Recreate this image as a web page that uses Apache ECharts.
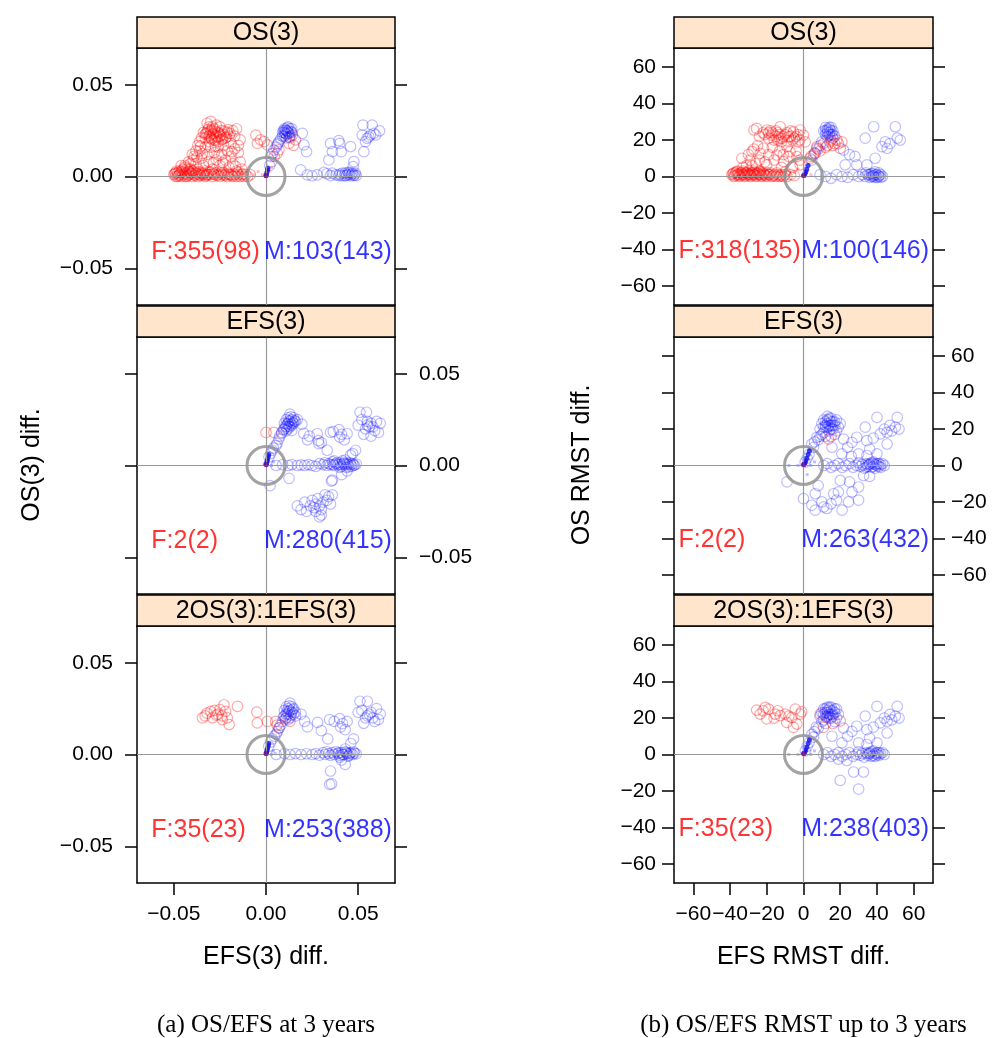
<!DOCTYPE html>
<html>
<head>
<meta charset="UTF-8">
<title>OS/EFS differences</title>
<script src="https://cdn.jsdelivr.net/npm/echarts@6/dist/echarts.min.js"></script>
<style>html,body{margin:0;padding:0;background:#fff;}</style>
</head>
<body>
<div id="main" style="width:995px;height:1038px;"></div>
<script type="text/javascript">
// ---- data ----
// (a) 3-year differences: x = EFS(3) diff., y = OS(3) diff.
var yr3Ticks = [-0.05, 0, 0.05];
var rmstTicks = [-60, -40, -20, 0, 20, 40, 60];
var panelTitles = ['OS(3)', 'EFS(3)', '2OS(3):1EFS(3)'];
var yr3Counts = [['F:355(98)', 'M:103(143)'], ['F:2(2)', 'M:280(415)'], ['F:35(23)', 'M:253(388)']];
var rmstCounts = [['F:318(135)', 'M:100(146)'], ['F:2(2)', 'M:263(432)'], ['F:35(23)', 'M:238(403)']];

var yr3OsF = [
  [-0.050,0.001],[-0.049,0.000],[-0.048,0.002],[-0.047,0.001],[-0.046,0.000],[-0.046,0.003],[-0.045,0.001],[-0.044,0.002],
  [-0.044,0.000],[-0.043,0.004],[-0.042,0.001],[-0.041,0.002],[-0.040,0.000],[-0.040,0.003],[-0.039,0.001],[-0.038,0.002],
  [-0.037,0.000],[-0.036,0.001],[-0.035,0.002],[-0.034,0.001],[-0.033,0.000],[-0.032,0.001],[-0.031,0.002],[-0.030,0.001],
  [-0.029,0.000],[-0.028,0.001],[-0.027,0.002],[-0.026,0.001],[-0.025,0.000],[-0.024,0.001],[-0.023,0.002],[-0.022,0.001],
  [-0.021,0.000],[-0.020,0.001],[-0.019,0.001],[-0.018,0.000],[-0.017,0.001],[-0.016,0.000],[-0.015,0.001],[-0.014,0.000],
  [-0.013,0.001],[-0.012,0.000],[-0.011,0.001],[-0.010,0.000],[-0.048,0.000],[-0.047,0.003],[-0.045,0.004],[-0.043,0.000],
  [-0.042,0.003],[-0.049,0.002],[-0.044,0.005],[-0.046,0.006],[-0.041,0.004],
  [-0.0495,0.0015],[-0.0485,0.003],[-0.0475,0.0005],[-0.0465,0.002],[-0.0455,0.0025],[-0.0435,0.0015],[-0.0425,0.0005],
  [-0.0415,0.0025],[-0.0405,0.0015],[-0.0395,0.003],[-0.0385,0.0005],[-0.0375,0.0015],[-0.0365,0.0025],[-0.0355,0.0005],
  [-0.0345,0.0015],[-0.0335,0.002],[-0.0325,0.0005],[-0.0315,0.001],[-0.0305,0.0025],[-0.0285,0.0015],[-0.0265,0.0005],
  [-0.0245,0.002],[-0.0225,0.0005],[-0.0205,0.0015],[-0.0185,0.0005],[-0.0155,0.002],[-0.0125,0.0015],[-0.0085,0.001],
  [-0.044,0.006],[-0.042,0.008],[-0.041,0.007],[-0.040,0.012],[-0.039,0.011],[-0.038,0.014],[-0.037,0.017],[-0.036,0.019],
  [-0.035,0.021],[-0.034,0.024],[-0.033,0.023],[-0.032,0.029],[-0.031,0.027],[-0.030,0.030],
  [-0.033,0.021],[-0.032,0.024],[-0.031,0.022],[-0.030,0.025],[-0.030,0.021],[-0.029,0.023],[-0.028,0.026],[-0.028,0.020],
  [-0.027,0.022],[-0.026,0.024],[-0.026,0.019],[-0.025,0.022],[-0.024,0.025],[-0.024,0.020],[-0.023,0.023],[-0.022,0.021],
  [-0.021,0.024],[-0.020,0.022],[-0.029,0.027],[-0.027,0.028],[-0.025,0.027],[-0.031,0.019],
  [-0.0325,0.0235],[-0.0315,0.0255],[-0.0305,0.0225],[-0.0295,0.0205],[-0.0285,0.0235],[-0.0275,0.0245],[-0.0265,0.0215],
  [-0.0255,0.0235],[-0.0245,0.0225],[-0.0235,0.0205],[-0.0225,0.0245],[-0.0215,0.0215],[-0.0275,0.0195],[-0.0295,0.0255],
  [-0.0205,0.0255],[-0.0195,0.0235],
  [-0.018,0.025],[-0.016,0.026],[-0.017,0.022],[-0.014,0.020],[-0.015,0.017],[-0.015,0.013],[-0.014,0.008],[-0.013,0.004],
  [-0.016,0.003],[-0.036,0.014],[-0.035,0.010],[-0.034,0.006],[-0.033,0.016],[-0.032,0.012],[-0.031,0.008],[-0.030,0.016],
  [-0.029,0.004],[-0.028,0.013],[-0.027,0.009],[-0.026,0.016],[-0.025,0.006],[-0.024,0.012],[-0.023,0.017],[-0.022,0.009],
  [-0.021,0.014],[-0.020,0.005],[-0.019,0.018],[-0.019,0.011],[-0.018,0.007],[-0.017,0.015],[-0.038,0.007],[-0.037,0.004],
  [-0.033,0.003],[-0.024,0.003],[-0.0395,0.009],[-0.0375,0.0105],[-0.0355,0.0165],[-0.0345,0.0125],[-0.0285,0.0075],
  [-0.0255,0.0115],[-0.0235,0.0075],[-0.0185,0.0135],[-0.0165,0.0055],[-0.0275,0.0165],
  [-0.0055,0.0225],[-0.0047,0.018],[-0.001,0.019],[0.0007,0.0172],[-0.003,0.020],
  [0.0143,0.0226],[0.016,0.020],[0.0125,0.018],[0.0061,0.0126],[0.007,0.0145],[0.0045,0.011],[0.015,0.017],[0.013,0.021]
];
var yr3OsM = [
  [0.009,0.024],[0.010,0.026],[0.010,0.022],[0.011,0.025],[0.011,0.023],[0.012,0.027],[0.012,0.024],[0.013,0.022],
  [0.013,0.026],[0.014,0.024],[0.011,0.021],[0.009,0.022],[0.012,0.025],[0.010,0.024],[0.014,0.026],
  [0.0105,0.0235],[0.0115,0.0245],[0.0125,0.0235],[0.0095,0.025],[0.0135,0.0245],[0.0115,0.0265],[0.0125,0.0215],[0.0105,0.0255],
  [0.0025,0.0108],[0.0035,0.0125],[0.0043,0.0144],[0.0055,0.016],[0.0061,0.0172],[0.007,0.019],[0.003,0.008],[0.002,0.006],
  [0.008,0.0205],[0.0065,0.018],
  [0.0197,0.0235],[0.0206,0.0172],[0.022,0.0135],[0.035,0.018],[0.0395,0.0195],[0.040,0.018],[0.0459,0.0163],[0.036,0.0135],
  [0.0408,0.0135],[0.0341,0.009],[0.0477,0.0081],[0.0473,0.0054],
  [0.0526,0.028],[0.0576,0.028],[0.0616,0.0249],[0.0549,0.0208],[0.0567,0.0226],[0.0585,0.0235],[0.0531,0.0135],[0.054,0.019],
  [0.0522,0.0226],[0.0558,0.0216],[0.0595,0.0226],
  [0.0188,0.0036],[0.0224,0.0009],[0.025,0.0004],[0.0278,0.0009],[0.0314,0.0022],[0.033,0.0015],[0.035,0.0005],[0.036,0.0018],
  [0.038,0.0009],[0.040,0.0013],[0.041,0.0004],[0.043,0.0018],[0.044,0.0009],[0.045,0.0013],[0.046,0.0004],[0.047,0.0018],
  [0.048,0.0009],[0.049,0.0005],[0.0455,0.0022],[0.0425,0.0004],
  [0.0395,0.0005],[0.0415,0.0018],[0.0435,0.0004],[0.0445,0.0022],[0.0465,0.0013],[0.0475,0.0005],[0.0485,0.0018]
];
var yr3EfsF = [[0.000,0.018],[0.0043,0.018]];
var yr3EfsM = [
  [0.0016,0.0047],[0.0025,0.0065],[0.0034,0.0083],[0.004,0.0095],[0.0054,0.0108],[0.006,0.012],[0.007,0.0144],[0.0075,0.016],
  [0.0085,0.0175],
  [0.010,0.020],[0.010,0.023],[0.011,0.025],[0.011,0.021],[0.012,0.026],[0.012,0.023],[0.013,0.024],[0.013,0.021],
  [0.014,0.025],[0.014,0.022],[0.015,0.023],[0.015,0.026],[0.016,0.024],[0.012,0.020],[0.013,0.028],[0.011,0.019],
  [0.017,0.025],[0.014,0.019],
  [0.0115,0.0225],[0.0125,0.0245],[0.0135,0.0225],[0.0145,0.0235],[0.0125,0.0215],[0.0135,0.0265],[0.0155,0.0245],
  [0.0105,0.0215],[0.0095,0.0195],[0.0085,0.018],
  [0.0195,0.0225],[0.0205,0.0175],[0.0225,0.0140],[0.0235,0.016],[0.0278,0.0173],[0.0285,0.0135],[0.030,0.0125],[0.035,0.018],
  [0.0365,0.0185],[0.0396,0.0195],[0.041,0.017],[0.044,0.0173],[0.040,0.0155],[0.0425,0.014],[0.0287,0.0119],[0.0332,0.0083],
  [0.0486,0.0083],[0.0459,0.0056],[0.047,0.0065],
  [0.051,0.029],[0.0545,0.029],[0.052,0.025],[0.055,0.022],[0.056,0.021],[0.054,0.020],[0.057,0.023],[0.058,0.021],
  [0.060,0.024],[0.062,0.023],[0.059,0.019],[0.053,0.017],[0.057,0.016],[0.061,0.018],[0.050,0.022],[0.055,0.024],
  [0.0055,0.000],[0.009,0.0005],[0.012,0.000],[0.014,0.0005],[0.017,0.000],[0.019,0.0003],[0.021,0.000],[0.023,0.0005],
  [0.025,0.000],[0.027,-0.0005],[0.029,0.001],[0.031,0.0005],[0.032,0.0015],[0.033,0.000],[0.034,0.001],[0.035,0.0005],
  [0.036,0.002],[0.037,0.000],[0.038,0.001],[0.039,0.0005],[0.040,0.0015],[0.041,-0.0005],[0.042,0.001],[0.043,0.0005],
  [0.044,0.0012],[0.045,-0.0008],[0.046,0.0005],[0.047,0.001],[0.048,0.0002],[0.049,0.0008],[0.043,0.003],[0.040,-0.001],
  [0.037,0.0025],
  [0.0365,0.0005],[0.0385,0.0015],[0.0405,0.0005],[0.0425,0.0015],[0.0445,0.0005],[0.0455,0.0015],[0.0475,0.0002],
  [0.0465,-0.0005],[0.0435,-0.001],[0.0415,0.0025],
  [0.0125,-0.007],[0.036,-0.008],[0.0355,-0.0085],[0.041,-0.005],[0.0022,-0.011],[0.044,-0.003],
  [0.017,-0.022],[0.019,-0.024],[0.021,-0.020],[0.022,-0.025],[0.024,-0.022],[0.025,-0.019],[0.026,-0.023],[0.027,-0.021],
  [0.027,-0.025],[0.028,-0.018],[0.029,-0.022],[0.030,-0.024],[0.030,-0.027],[0.031,-0.020],[0.032,-0.016],[0.033,-0.019],
  [0.034,-0.017],[0.035,-0.021],[0.036,-0.016],[0.029,-0.028]
];
var yr3CombF = [
  [-0.0345,0.0199],[-0.033,0.021],[-0.030,0.0235],[-0.029,0.020],[-0.0228,0.0271],[-0.0219,0.0235],[-0.0237,0.019],[-0.020,0.0163],
  [-0.0155,0.0262],[-0.032,0.0225],[-0.026,0.022],[-0.025,0.0245],[-0.027,0.0215],[-0.024,0.021],[-0.021,0.020],[-0.028,0.024],
  [-0.005,0.0231],[-0.0047,0.0172],[0.0007,0.018],[0.0052,0.018],[0.007,0.0144],[0.006,0.016],[0.011,0.020],[0.013,0.018]
];
var yr3CombM = [
  [0.0015,0.0045],[0.0025,0.0068],[0.0035,0.0085],[0.0045,0.010],[0.0055,0.011],[0.0062,0.0125],[0.0072,0.0145],[0.008,0.016],
  [0.009,0.018],
  [0.010,0.021],[0.010,0.024],[0.011,0.026],[0.011,0.022],[0.012,0.025],[0.012,0.022],[0.013,0.024],[0.013,0.020],
  [0.014,0.026],[0.014,0.023],[0.015,0.022],[0.015,0.025],[0.016,0.023],[0.012,0.019],[0.013,0.028],[0.016,0.021],
  [0.0115,0.0235],[0.0125,0.0235],[0.0135,0.0215],[0.0145,0.0245],[0.0125,0.0265],[0.0105,0.0195],[0.0095,0.0205],
  [0.019,0.022],[0.021,0.018],[0.0225,0.015],[0.028,0.0175],[0.030,0.013],[0.0345,0.019],[0.037,0.018],[0.040,0.0195],
  [0.0415,0.0168],[0.044,0.018],[0.0405,0.015],[0.043,0.0135],[0.0335,0.0085],[0.0475,0.0085],[0.046,0.006],
  [0.051,0.029],[0.055,0.029],[0.052,0.024],[0.055,0.021],[0.056,0.022],[0.054,0.020],[0.057,0.023],[0.058,0.020],
  [0.060,0.025],[0.062,0.022],[0.059,0.018],[0.053,0.017],[0.061,0.019],[0.050,0.023],
  [0.0055,0.0],[0.010,0.0005],[0.013,0.0],[0.016,0.0005],[0.019,0.0],[0.022,0.0004],[0.025,0.0],[0.027,0.0005],
  [0.029,-0.0004],[0.031,0.001],[0.032,0.0],[0.033,0.0015],[0.034,0.0005],[0.035,-0.0005],[0.036,0.001],[0.037,0.0],
  [0.038,0.0015],[0.039,0.0005],[0.040,-0.0005],[0.041,0.001],[0.042,0.0],[0.043,0.0015],[0.044,0.0005],[0.045,-0.0005],
  [0.046,0.001],[0.047,0.0],[0.048,0.0008],[0.049,0.0003],[0.043,0.003],[0.040,-0.0015],
  [0.0395,0.001],[0.0415,0.0],[0.0435,0.001],[0.0455,0.0005],[0.0445,-0.001],[0.0475,0.0015],
  [0.035,-0.009],[0.0346,-0.0163],[0.0356,-0.0160],[0.043,-0.0054],[0.041,-0.003]
];
var yr3OsDots = [[0.0001,0.0004],[0.0002,0.001],[0.0005,0.0022],[0.0008,0.0035],[0.001,0.0045]];
var yr3EfsDots = [[0.0002,0.0005],[0.0004,0.0015],[0.0006,0.0025],[0.0009,0.0035],[0.0012,0.0048],[0.0015,0.006]];
var yr3CombDots = [[0.0002,0.0005],[0.0004,0.0015],[0.0006,0.0025],[0.0009,0.0035],[0.0012,0.0048],[0.0015,0.006]];
var yr3OsFaint = [[-0.0043,0.0027],[-0.0065,0.001],[0.002,0.003],[-0.002,0.001],[0.003,0.005]];
var yr3EfsFaint = [[0.003,0.0],[0.004,0.002],[-0.001,0.001]];
var yr3CombFaint = [[0.003,0.0],[0.004,0.002],[0.005,0.0005]];

// (b) RMST differences up to 3 years: x = EFS RMST diff., y = OS RMST diff.
var rmstOsF = [
  [-39,1],[-38,0],[-37,2],[-36,1],[-35,0],[-34,2],[-33,1],[-32,0],[-31,2],[-30,1],[-29,0],[-28,2],[-27,1],[-26,0],
  [-25,2],[-24,1],[-23,0],[-22,2],[-21,1],[-20,0],[-19,1],[-18,2],[-17,0],[-16,1],[-15,0],[-14,1],[-13,0],[-12,1],
  [-11,0],[-10,1],[-9,0],[-36,3],[-33,3],[-30,3],[-27,3],[-24,3],[-38,2],[-35,1],[-32,2],[-29,1],[-26,2],[-23,1],[-20,2],
  [-38.5,1.5],[-37.5,0.5],[-36.5,2.5],[-35.5,1.5],[-34.5,0.5],[-33.5,2],[-32.5,1],[-31.5,0.5],[-30.5,2],[-29.5,1.5],
  [-28.5,0.5],[-27.5,2],[-26.5,1],[-25.5,0.5],[-24.5,1.5],[-23.5,2.5],[-22.5,0.5],[-21.5,1.5],[-20.5,0.5],[-18.5,1],
  [-16.5,0.5],[-14.5,2],[-12.5,0.5],[-10,2.5],[-7,1],[-5,0.5],
  [-33.6,10],[-28,13.6],[-27,25.5],[-29,9],[-31,6],[-26,7],[-23.6,12.7],[-20,6.4],[-14.5,11.8],[-10.9,8.2],[-7.3,13.6],
  [-3.6,10.9],[-1.8,6.4],[-21.8,15.5],[-9,16.4],[-17,16],[-25,17],[-12,5],[-6,5],[-16,9],
  [-30,12],[-27,15],[-24,9],[-19,12],[-13,14],[-8,11],[-4,14],[-2,9],[-33,5],[-28,6],[-21,8],[-11,12],
  [-25.5,26.4],[-20,25.5],[-17.3,22.7],[-12.7,27.3],[-11.8,20.9],[-8.2,21.8],[-5.5,24.5],[-1.8,25.5],[0,22.7],[0.9,19],
  [-15,22],[-14,24],[-13,21],[-10,23],[-9,19.5],[-7,22],[-6,20],[-4,22],[-3,19],[-16,20],[-18,25],[-22,24],[-24,22],[-19,21],
  [-21,23],[-19,24],[-17,24],[-15,25],[-13,23],[-11,22],[-14,20],[-12,19],[-9,24],[-7,25],[-5,21],[-3,23],[-2,20],
  [7.3,16.4],[10.9,18.2],[14.5,19],[18.2,20],[20,15.5],[9,14],[5.5,11.8],[3.6,10],[12,16],[16,17],[20.9,19],[19,18],
  [8,15],[13,17],[15,20],[17,18],[6,13],[4,11]
];
var rmstOsM = [
  [11,25],[12,27],[13,24],[14,26],[15,23],[16,25],[17,22],[13,22],[15,27],[12,23],[14,24],[16,21],
  [13,25],[14,23],[15,25],[12,25],[16,23],[14,27],[13,26],
  [7.3,15.5],[6.4,12.7],[9,17],[4.5,9],[10,19],
  [21.8,14.5],[22.7,6.4],[28,11],[29,6.4],[33.6,21],[34.5,6.4],[38.2,27.3],[39,10],[42.7,16.4],[44.5,19],[45.5,15.5],
  [50,27.3],[51,21],[52.7,20],[47,18],[25,12],
  [9,1],[12,0],[15,-1],[18,1],[21,0],[24,-0.5],[27,1],[30,0],[32,1],[33.5,0],[35,1],[36,-0.5],[37,1.5],[38,0],[39,1],
  [40,-0.5],[41,0.5],[42,1],[43,0],[34,2],[39,2.5],[41,2],
  [36,1],[37,0],[38,1.5],[39,-0.5],[40,1],[41,0],[42,-0.5],[38,0.5]
];
var rmstEfsF = [[13.6,14.5],[15,16]];
var rmstEfsM = [
  [0.9,1.8],[2,4],[3,6],[4.5,11.8],[5.5,10],[7.3,15.5],[6,13],[8,14],
  [9,20],[10,23],[11,18],[11,25],[12,21],[13,27],[13,23],[14,19],[14,25],[15,22],[15,26],[16,20],[16,24],[17,22],
  [18,25],[18,19],[19,21],[20,23],[12,16],[17,17],
  [12,24],[13,25],[14,22],[15,24],[16,22],[13,21],[15,20],[17,24],[14,26],[12,22],[11,21],[10,17],[9,16],
  [21.8,14.5],[26.4,12.7],[29,15.5],[33.6,21],[34.5,13.6],[40,26.4],[41.8,17.3],[45.5,18.2],[50,21],[51,26.4],
  [45.5,11.8],[30,6.4],[34.5,5.5],[40,6.4],[20.9,6.4],[15.5,10],[24,10],[48,19],[44,20],[38,15],[52,20],[47,22],[36,9],[26,5],
  [11,0],[13,1],[15,-1],[17,0],[19,1],[21,-1],[23,0],[25,1],[27,-1],[29,0],[30,1.5],[31,-0.5],[32,0.5],[33,-1.5],
  [34,1],[35,-0.5],[36,0.5],[37,1.5],[38,-0.5],[39,0.5],[40,1],[41,-0.5],[42,0.5],[43,1],[44,0],[38,2],
  [36,1],[37,-1],[38,1],[39,-1.5],[40,0],[41,1],[42,-1],[35,0.5],[34,-1],
  [20,-8.2],[30,-11.8],[32.7,-5.5],[36,-6],[19,-14.5],[26.4,-14.5],[16.4,-15.5],[6.4,-15.5],[0,-18.2],[4.5,-21.8],
  [11,-22.7],[12.7,-23.6],[6.4,-24.5],[21,-24.5],[24.5,-20],[30,-19],[-9,-9],[10,-20],[15,-21],[18,-19],[8,-11],[25,-9]
];
var rmstCombF = [
  [-25.5,24.4],[-20.9,25.8],[-19,24.9],[-23.6,22.2],[-20,19.5],[-15.5,22.2],[-12.7,21.3],[-10,22.2],[-9.1,17.6],[-6.4,20.4],
  [-4.5,24.9],[-3.6,16.7],[-1.8,22.2],[-1,23.5],[-5.5,14.9],[-16,20],[-14,24],[-22,24],[-8,21],
  [9.1,22.2],[12.7,20.4],[20,18.5],[10.9,14.9],[16,17]
];
var rmstCombM = [
  [1,2],[2,4.5],[3,6.5],[4.5,11],[5.5,9.5],[7,15],[6,12.5],[8,14.5],
  [9,21],[10,23],[11,19],[11,25],[12,21],[13,26],[13,23],[14,20],[14,25],[15,22],[15,26],[16,21],[16,24],[17,23],
  [18,25],[18,20],[19,22],[12,17],[17,18],
  [12,23],[13,24],[14,22],[15,24],[16,22],[13,21],[15,20],[17,25],[14,26],[12,25],[11,22],[10,18],
  [21.8,14.5],[26.4,12.7],[29,15.5],[33.6,21],[34.5,13.6],[40,26.4],[41.8,17.3],[45.5,18.2],[50,21],[51,26.4],
  [45.5,11.8],[30,6.4],[34.5,5.5],[40,6.4],[20.9,6.4],[15.5,10],[24,10],[48,19],[44,20],[38,15],[52,20],[47,22],[36,9],
  [11,0],[13,1],[15,-1],[17,0],[19,1],[21,-1],[23,0],[25,1],[27,-1],[29,0],[30,1.5],[31,-0.5],[32,0.5],[33,-1.5],
  [34,1],[35,-0.5],[36,0.5],[37,1.5],[38,-0.5],[39,0.5],[40,1],[41,-0.5],[42,0.5],[43,1],[44,0],[38,2],
  [36,1],[37,-1],[39,-1],[40,0],[41,1],[35,0.5],
  [20,-14.2],[30,-19],[27.3,-9.6],[32.7,-9.6],[23.6,-3.3],[19,-2.5]
];
var rmstOsDots = [[0.3,0.5],[0.8,1.5],[1.2,2.5],[1.8,4],[2.5,6]];
var rmstEfsDots = [[0.3,0.5],[0.8,1.5],[1.2,2.5],[1.8,4],[2.5,6],[3.2,8]];
var rmstCombDots = [[0.3,0.5],[0.8,1.5],[1.2,2.5],[1.8,4],[2.5,6],[3.2,8]];
var rmstOsFaint = [[-5,2],[-8,0.5],[2,3],[-3,4],[4,1]];
var rmstEfsFaint = [[-8,0],[-3,0],[4,0],[2,-5],[6,2]];
var rmstCombFaint = [[-8,0],[-3,0],[4,0],[6,2]];

// ---- layout ----
var FONT = 'Liberation Sans';
var stripTop = [17, 306, 595];
var stripH = 31, plotH = 257;
function fmt2(v) { return (v < 0 ? '\u2212' : '') + Math.abs(v).toFixed(2); }
function fmt0(v) { return (v < 0 ? '\u2212' : '') + Math.abs(v).toFixed(0); }

var charts = [
  { left: 137, width: 258, lim: 0.07, ticks: yr3Ticks, fmt: fmt2, textY: -0.041, fX: -0.0625, mX: 0.0686,
    yMargin: 24, counts: yr3Counts,
    sets: [[yr3OsF, yr3OsM, yr3OsDots, yr3OsFaint], [yr3EfsF, yr3EfsM, yr3EfsDots, yr3EfsFaint], [yr3CombF, yr3CombM, yr3CombDots, yr3CombFaint]],
    xName: 'EFS(3) diff.', yName: 'OS(3) diff.', yNameX: 32, caption: '(a) OS/EFS at 3 years' },
  { left: 674, width: 259, lim: 70.5, ticks: rmstTicks, fmt: fmt0, textY: -41, fX: -68.3, mX: 68.6,
    yMargin: 18, counts: rmstCounts,
    sets: [[rmstOsF, rmstOsM, rmstOsDots, rmstOsFaint], [rmstEfsF, rmstEfsM, rmstEfsDots, rmstEfsFaint], [rmstCombF, rmstCombM, rmstCombDots, rmstCombFaint]],
    xName: 'EFS RMST diff.', yName: 'OS RMST diff.', yNameX: 582, caption: '(b) OS/EFS RMST up to 3 years' }
];

var grids = [], xAxes = [], yAxes = [], series = [], graphics = [];
var lineBlack = { color: '#000', width: 1.5 };

function axis(gi, pos, c, ticksOn, labelsOn, margin) {
  return {
    type: 'value', gridIndex: gi, position: pos, min: -c.lim, max: c.lim,
    axisLine: { show: true, onZero: false, lineStyle: lineBlack },
    axisTick: { show: ticksOn, inside: false, length: 12, customValues: c.ticks, lineStyle: lineBlack },
    axisLabel: { show: labelsOn, customValues: c.ticks, formatter: c.fmt, fontFamily: FONT, fontSize: 21,
                 color: '#000', margin: margin },
    splitLine: { show: false }
  };
}

charts.forEach(function (c, ci) {
  for (var r = 0; r < 3; r++) {
    var gi = grids.length;
    grids.push({ left: c.left, top: stripTop[r] + stripH, width: c.width, height: plotH, outerBoundsMode: 'none' });
    xAxes.push(axis(gi, 'bottom', c, r === 2, r === 2, 21));
    xAxes.push(axis(gi, 'top', c, r === 0, false, 8));
    yAxes.push(axis(gi, 'left', c, true, r !== 1, c.yMargin));
    yAxes.push(axis(gi, 'right', c, true, r === 1, c.yMargin));
    var ax = { xAxisIndex: 2 * gi, yAxisIndex: 2 * gi };
    var set = c.sets[r];

    series.push(Object.assign({ type: 'scatter', data: [], silent: true, z: 1,
      markLine: { silent: true, symbol: 'none', animation: false, label: { show: false },
        lineStyle: { color: '#999', width: 1.2, type: 'solid' },
        data: [{ xAxis: 0 }, { yAxis: 0 }] } }, ax));
    series.push(Object.assign({ type: 'scatter', name: 'F', data: set[0], symbol: 'circle', symbolSize: 10.5, z: 2,
      itemStyle: { color: 'rgba(0,0,0,0)', borderColor: 'rgba(255,0,0,0.42)', borderWidth: 1.2 } }, ax));
    series.push(Object.assign({ type: 'scatter', name: 'M', data: set[1], symbol: 'circle', symbolSize: 10.5, z: 2,
      itemStyle: { color: 'rgba(0,0,0,0)', borderColor: 'rgba(0,0,255,0.32)', borderWidth: 1.2 } }, ax));
    series.push(Object.assign({ type: 'scatter', data: set[3], symbol: 'rect', symbolSize: 3, z: 2,
      itemStyle: { color: r === 0 ? 'rgba(255,0,0,0.3)' : 'rgba(0,0,255,0.3)' } }, ax));
    series.push(Object.assign({ type: 'scatter', data: [[0, 0]], symbol: 'circle', symbolSize: 38, z: 3,
      itemStyle: { color: 'rgba(0,0,0,0)', borderColor: '#8c8c8c', borderWidth: 3 } }, ax));
    series.push(Object.assign({ type: 'scatter', data: set[2], symbol: 'circle', symbolSize: 5, z: 4,
      itemStyle: { color: '#1010ee' } }, ax));
    series.push(Object.assign({ type: 'scatter', data: [[0, 0.0005 * (c.lim / 0.07)]], symbol: 'circle', symbolSize: 5, z: 5,
      itemStyle: { color: '#7a0a8a' } }, ax));
    series.push(Object.assign({ type: 'scatter', symbolSize: 1, z: 6,
      itemStyle: { color: 'rgba(0,0,0,0)' },
      data: [
        { name: c.counts[r][0], value: [c.fX, c.textY],
          label: { show: true, position: 'right', distance: 0, formatter: '{b}', color: '#ff0000', fontFamily: FONT, fontSize: 25 } },
        { name: c.counts[r][1], value: [c.mX, c.textY],
          label: { show: true, position: 'left', distance: 0, formatter: '{b}', color: '#0000ff', fontFamily: FONT, fontSize: 25 } }
      ] }, ax));

    graphics.push({ type: 'rect', z: 10,
      shape: { x: c.left, y: stripTop[r], width: c.width, height: stripH },
      style: { fill: '#ffe5cc', stroke: '#000', lineWidth: 1.5 } });
    graphics.push({ type: 'text', z: 11, x: c.left + c.width / 2, y: stripTop[r] + stripH / 2 + 1,
      style: { text: panelTitles[r], fontFamily: FONT, fontSize: 25, fill: '#000', align: 'center', verticalAlign: 'middle' } });
  }
  graphics.push({ type: 'text', x: c.left + c.width / 2, y: 957,
    style: { text: c.xName, fontFamily: FONT, fontSize: 25, fill: '#000', align: 'center', verticalAlign: 'middle' } });
  graphics.push({ type: 'text', x: c.yNameX, y: 465, rotation: Math.PI / 2,
    style: { text: c.yName, fontFamily: FONT, fontSize: 25, fill: '#000', align: 'center', verticalAlign: 'middle' } });
  graphics.push({ type: 'text', x: c.left + c.width / 2, y: 1025,
    style: { text: c.caption, fontFamily: 'Liberation Serif', fontSize: 25, fill: '#000', align: 'center', verticalAlign: 'middle' } });
});

var chart = echarts.init(document.getElementById('main'), null, { renderer: 'canvas' });
chart.setOption({
  animation: false,
  backgroundColor: '#fff',
  grid: grids,
  xAxis: xAxes,
  yAxis: yAxes,
  series: series,
  graphic: graphics
});
</script>
</body>
</html>
